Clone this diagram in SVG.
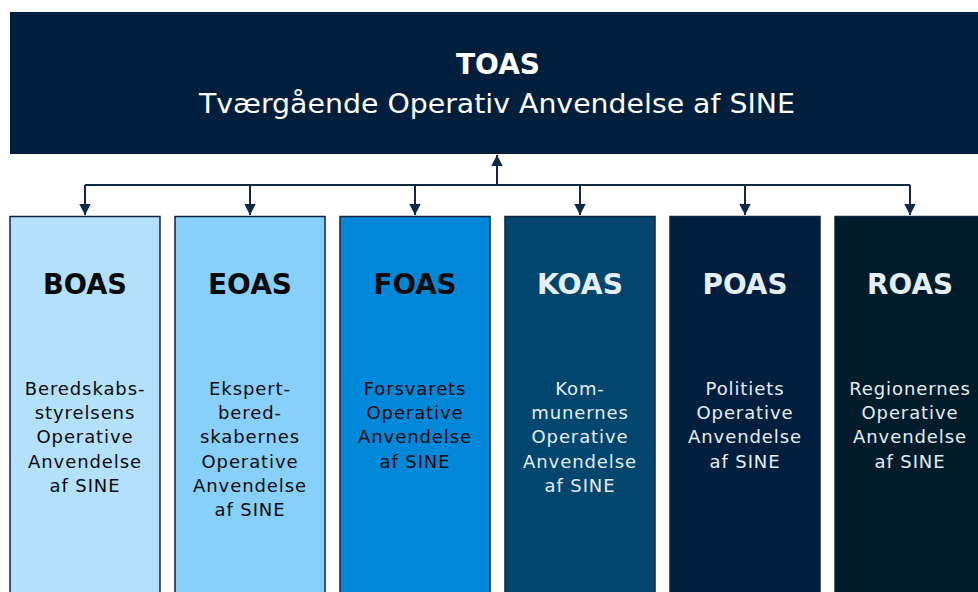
<svg xmlns="http://www.w3.org/2000/svg" width="978" height="592" viewBox="0 0 978 592">
<defs>
<marker id="ah" markerWidth="12" markerHeight="12" refX="11" refY="6" orient="auto" markerUnits="userSpaceOnUse">
<path d="M0,0.25 L11,6 L0,11.75 Z" fill="#0f2a47"/>
</marker>
<style>
.box{stroke:#0d2540;stroke-width:1.5}
.t{font-family:"DejaVu Sans","Liberation Sans",Arial,sans-serif;text-anchor:middle}
.h{font-size:28.5px;font-weight:bold}
.b{font-size:18px;letter-spacing:0.9px}
.dk{fill:#0a0a0a}
.lt{fill:#e3eef7}
.ln{fill:none;stroke:#0f2a47;stroke-width:2}
</style>
</defs>
<rect width="978" height="592" fill="#ffffff"/>
<g id="toas">
<rect x="10" y="12" width="975" height="142" fill="#001f3d"/>
<text class="t" x="498" y="73.5" font-size="27.5" font-weight="bold" fill="#ffffff" textLength="84" lengthAdjust="spacingAndGlyphs">TOAS</text>
<text class="t" x="497" y="112.5" font-size="26" fill="#ffffff" textLength="596" lengthAdjust="spacingAndGlyphs">Tværgående Operativ Anvendelse af SINE</text>
</g>
<g id="connectors">
<path class="ln" d="M497,185 V155" marker-end="url(#ah)"/>
<path class="ln" d="M85,185 H910"/>
<path class="ln" d="M85,185 V215" marker-end="url(#ah)"/>
<path class="ln" d="M250,185 V215" marker-end="url(#ah)"/>
<path class="ln" d="M415,185 V215" marker-end="url(#ah)"/>
<path class="ln" d="M580,185 V215" marker-end="url(#ah)"/>
<path class="ln" d="M745,185 V215" marker-end="url(#ah)"/>
<path class="ln" d="M910,185 V215" marker-end="url(#ah)"/>
</g>
<g id="boas">
<rect class="box" x="10" y="216.5" width="150" height="390" fill="#b3e1fc"/>
<text class="t h dk" x="85" y="294" textLength="84" lengthAdjust="spacingAndGlyphs">BOAS</text>
<text class="t b dk" x="85"><tspan x="85" y="395">Beredskabs-</tspan><tspan x="85" y="419.2">styrelsens</tspan><tspan x="85" y="443.4">Operative</tspan><tspan x="85" y="467.6">Anvendelse</tspan><tspan x="85" y="491.8">af SINE</tspan></text>
</g>
<g id="eoas">
<rect class="box" x="175" y="216.5" width="150" height="390" fill="#87d0fb"/>
<text class="t h dk" x="250" y="294" textLength="84" lengthAdjust="spacingAndGlyphs">EOAS</text>
<text class="t b dk" x="250"><tspan x="250" y="395">Ekspert-</tspan><tspan x="250" y="419.2">bered-</tspan><tspan x="250" y="443.4">skabernes</tspan><tspan x="250" y="467.6">Operative</tspan><tspan x="250" y="491.8">Anvendelse</tspan><tspan x="250" y="516">af SINE</tspan></text>
</g>
<g id="foas">
<rect class="box" x="340" y="216.5" width="150" height="390" fill="#0288d9"/>
<text class="t h dk" x="415" y="294" textLength="83" lengthAdjust="spacingAndGlyphs">FOAS</text>
<text class="t b dk" x="415"><tspan x="415" y="395">Forsvarets</tspan><tspan x="415" y="419.2">Operative</tspan><tspan x="415" y="443.4">Anvendelse</tspan><tspan x="415" y="467.6">af SINE</tspan></text>
</g>
<g id="koas">
<rect class="box" x="505" y="216.5" width="150" height="390" fill="#00466e"/>
<text class="t h lt" x="580" y="294" textLength="86" lengthAdjust="spacingAndGlyphs">KOAS</text>
<text class="t b lt" x="580"><tspan x="580" y="395">Kom-</tspan><tspan x="580" y="419.2">munernes</tspan><tspan x="580" y="443.4">Operative</tspan><tspan x="580" y="467.6">Anvendelse</tspan><tspan x="580" y="491.8">af SINE</tspan></text>
</g>
<g id="poas">
<rect class="box" x="670" y="216.5" width="150" height="390" fill="#001f3e"/>
<text class="t h lt" x="745" y="294" textLength="85" lengthAdjust="spacingAndGlyphs">POAS</text>
<text class="t b lt" x="745"><tspan x="745" y="395">Politiets</tspan><tspan x="745" y="419.2">Operative</tspan><tspan x="745" y="443.4">Anvendelse</tspan><tspan x="745" y="467.6">af SINE</tspan></text>
</g>
<g id="roas">
<rect class="box" x="835" y="216.5" width="150" height="390" fill="#001b2a"/>
<text class="t h lt" x="910" y="294" textLength="86" lengthAdjust="spacingAndGlyphs">ROAS</text>
<text class="t b lt" x="910"><tspan x="910" y="395">Regionernes</tspan><tspan x="910" y="419.2">Operative</tspan><tspan x="910" y="443.4">Anvendelse</tspan><tspan x="910" y="467.6">af SINE</tspan></text>
</g>
</svg>
